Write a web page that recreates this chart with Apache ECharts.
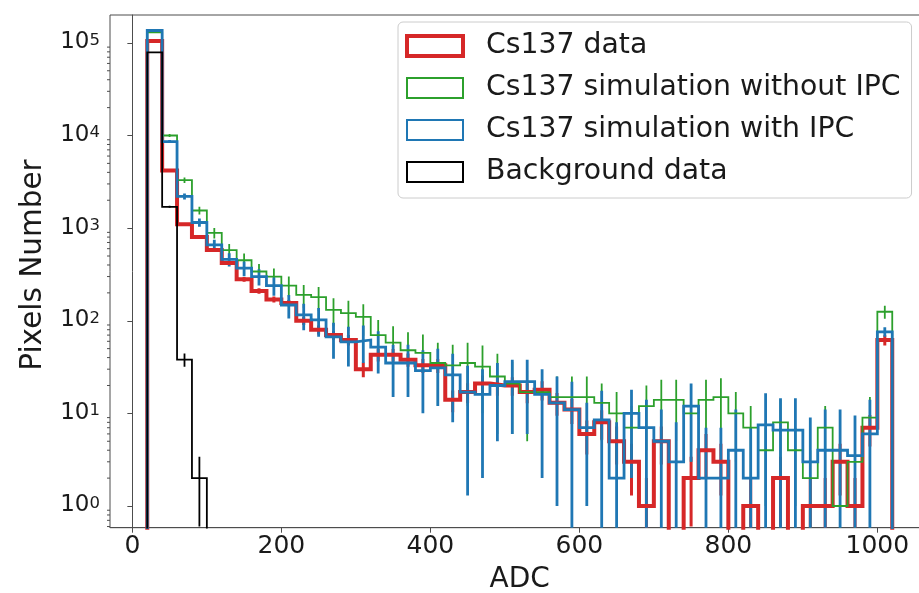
<!DOCTYPE html>
<html><head><meta charset="utf-8">
<script src="https://cdn.jsdelivr.net/npm/echarts@6/dist/echarts.min.js"></script>
<style>html,body{margin:0;padding:0;background:#fff}#c{width:919px;height:593px}</style>
</head><body><div id="c"></div>
<script>
// ---- histogram binning (ADC) ----
const binStart = 20;
const binWidth = 20;

// ---- series values (counts per bin, 50 bins from ADC 20 to 1020) ----
const cs137Data = [105000, 4200, 1100, 800, 580, 420, 280, 210, 170, 155,
  100, 80, 70, 62, 30, 43, 43, 38, 33, 33,
  14, 17, 21, 20, 20, 17, 18, 13, 11, 6,
  8, 5, 3, 1, 5, 0, 2, 4, 3, 0,
  1, 0, 2, 0, 1, 1, 3, 1, 7, 62];
const cs137DataErr = [324, 65, 33, 28, 24, 20, 17, 14, 13, 12,
  10, 9, 8, 8, 5.5, 6.6, 6.6, 6.2, 5.7, 5.7,
  3.7, 4.1, 4.6, 4.5, 4.5, 4.1, 4.2, 3.6, 3.3, 2.4,
  2.8, 2.2, 1.7, 1, 2.2, 0, 1.4, 2, 1.7, 0,
  1, 0, 1.4, 0, 1, 1, 1.7, 1, 2.6, 7.9];

const simNoIPC = [130000, 10000, 3300, 1550, 890, 580, 450, 340, 300, 240,
  190, 180, 131, 121, 110, 70, 58, 48, 45, 35,
  33, 35, 32, 25, 21, 17, 17, 15, 15, 15,
  13, 10, 7, 12, 14, 14, 10, 14, 15, 10,
  7, 4, 8, 4, 2, 7, 1, 3, 9, 125];
const simNoIPCErr = [1400, 390, 220, 150, 115, 93, 82, 71, 67, 60,
  53, 52, 44, 43, 41, 32, 29, 27, 26, 23,
  22, 23, 22, 19, 15, 12, 12, 10, 10, 10,
  8, 7, 5, 8, 9, 9, 7, 9, 9, 7,
  5, 3, 6, 3, 2, 5, 1, 2.5, 6, 20];

const simIPC = [136000, 8600, 2200, 1150, 660, 460, 370, 300, 240, 148,
  116, 102, 67, 59, 62, 52, 35, 35, 29, 31,
  26, 17, 16, 20, 22, 22, 16, 13, 11, 7,
  8.5, 2, 10, 7, 5, 3, 12, 2, 2, 4,
  2, 7.5, 6.6, 6.6, 3, 4, 4, 3.5, 6, 76];
const simIPCErr = [1300, 320, 160, 117, 89, 74, 67, 60, 54, 42,
  37, 35, 28, 27, 27, 25, 20, 20, 19, 19,
  18, 15.7, 14, 15, 16, 16, 14, 12, 11, 6,
  9, 6, 8, 7, 6, 5, 9, 5, 5, 7,
  5, 9, 8, 8, 6, 7, 7, 6, 8, 9];

const background = [79000, 1700, 38, 2, 0, 0, 0, 0, 0, 0,
  0, 0, 0, 0, 0, 0, 0, 0, 0, 0,
  0, 0, 0, 0, 0, 0, 0, 0, 0, 0,
  0, 0, 0, 0, 0, 0, 0, 0, 0, 0,
  0, 0, 0, 0, 0, 0, 0, 0, 0, 0];
const backgroundErr = [281, 41, 6.2, 1.4, 0, 0, 0, 0, 0, 0,
  0, 0, 0, 0, 0, 0, 0, 0, 0, 0,
  0, 0, 0, 0, 0, 0, 0, 0, 0, 0,
  0, 0, 0, 0, 0, 0, 0, 0, 0, 0,
  0, 0, 0, 0, 0, 0, 0, 0, 0, 0];

const seriesNames = ['Cs137 data', 'Cs137 simulation without IPC', 'Cs137 simulation with IPC', 'Background data'];
const xTickValues = [0, 200, 400, 600, 800, 1000];
const yMajorTicks = [1, 10, 100, 1000, 10000, 100000];
const xAxisTitle = 'ADC';
const yAxisTitle = 'Pixels Number';

// ---- layout / style ----
const X_MIN = -30, X_MAX = 1070, Y_MIN = 0.583, Y_MAX = 2.0e5;
const FLOOR = 1e-3;
const TXT = '#1a1a1a';
const AX = '#4d4d4d';
const FONT = 'DejaVu Sans';

const edge = i => binStart + i * binWidth;

function stepPoints(vals) {
  const pts = [[edge(0), FLOOR]];
  vals.forEach((v, i) => {
    const y = v > 0 ? v : FLOOR;
    pts.push([edge(i), y], [edge(i + 1), y]);
  });
  pts.push([edge(vals.length), FLOOR]);
  return pts;
}
function errPoints(vals, errs) {
  const out = [];
  vals.forEach((v, i) => {
    if (v > 0 && errs[i] > 0) {
      out.push([edge(i) + binWidth / 2, Math.max(v - errs[i], FLOOR), v + errs[i]]);
    }
  });
  return out;
}
function errRender(color, lw) {
  return function (params, api) {
    const p1 = api.coord([api.value(0), api.value(1)]);
    const p2 = api.coord([api.value(0), api.value(2)]);
    return { type: 'line', shape: { x1: p1[0], y1: p1[1], x2: p2[0], y2: p2[1] },
      style: { stroke: color, lineWidth: lw } };
  };
}

const defs = [
  { name: seriesNames[0], vals: cs137Data, errs: cs137DataErr, color: '#d62728', lw: 4, elw: 3 },
  { name: seriesNames[1], vals: simNoIPC, errs: simNoIPCErr, color: '#2ca02c', lw: 1.8, elw: 1.8 },
  { name: seriesNames[2], vals: simIPC, errs: simIPCErr, color: '#1f77b4', lw: 2.8, elw: 2.8 },
  { name: seriesNames[3], vals: background, errs: backgroundErr, color: '#000000', lw: 1.8, elw: 1.8 }
];

const series = [];
defs.forEach(d => {
  series.push({
    name: d.name, type: 'line', data: stepPoints(d.vals), symbol: 'none', clip: true,
    lineStyle: { color: d.color, width: d.lw, join: 'miter' }, itemStyle: { color: d.color },
    emphasis: { disabled: true }, silent: true
  });
  series.push({
    type: 'custom', data: errPoints(d.vals, d.errs), renderItem: errRender(d.color, d.elw),
    clip: true, silent: true, encode: { x: 0, y: [1, 2] }
  });
});

// minor log ticks on the y axis
const yMinor = [];
[0.1, 1, 10, 100, 1000, 10000].forEach(dec => {
  for (let k = 2; k <= 9; k++) {
    const v = dec * k;
    if (v > Y_MIN && v < Y_MAX) yMinor.push([X_MIN, v]);
  }
});
series.push({
  type: 'custom', data: yMinor, silent: true, clip: false,
  renderItem: (params, api) => {
    const p = api.coord([api.value(0), api.value(1)]);
    return { type: 'line', shape: { x1: p[0] - 3, y1: p[1], x2: p[0], y2: p[1] },
      style: { stroke: AX, lineWidth: 1 } };
  }
});

const chart = echarts.init(document.getElementById('c'), null, { renderer: 'canvas' });
chart.setOption({
  animation: false,
  backgroundColor: '#ffffff',
  textStyle: { fontFamily: FONT },
  grid: { left: 110, top: 15, right: -10.5, bottom: 65.3, show: true, borderColor: AX, borderWidth: 1,
    backgroundColor: 'transparent', outerBoundsMode: 'none' },
  xAxis: {
    type: 'value', min: X_MIN, max: X_MAX,
    axisLine: { show: true, onZero: false, lineStyle: { color: AX, width: 1 } },
    axisTick: { show: true, length: 5, customValues: xTickValues, lineStyle: { color: AX } },
    axisLabel: { customValues: xTickValues, fontSize: 25, color: TXT, margin: 6, fontFamily: FONT,
      formatter: v => String(v) },
    splitLine: { show: false },
    name: xAxisTitle, nameLocation: 'middle', nameGap: 38,
    nameTextStyle: { fontSize: 28, color: TXT, fontFamily: FONT }
  },
  yAxis: {
    type: 'log', logBase: 10, min: Y_MIN, max: Y_MAX,
    axisLine: { show: true, lineStyle: { color: AX, width: 1 } },
    axisTick: { show: true, length: 5, customValues: yMajorTicks, lineStyle: { color: AX } },
    axisLabel: {
      customValues: yMajorTicks, margin: 10, color: TXT,
      formatter: v => '{b|10}{s|' + Math.round(Math.log10(v)) + '}',
      rich: {
        b: { fontSize: 23, lineHeight: 22, color: TXT, fontFamily: FONT, verticalAlign: 'bottom' },
        s: { fontSize: 16.5, lineHeight: 16, color: TXT, fontFamily: FONT, verticalAlign: 'top', padding: [0, 0, 9, 0] }
      }
    },
    splitLine: { show: false }
  },
  graphic: [{
    type: 'text', x: 33.5, y: 265, rotation: Math.PI / 2, silent: true,
    style: { text: yAxisTitle, fontSize: 29.5, fontFamily: FONT, fill: TXT, align: 'center', verticalAlign: 'middle' }
  }],
  legend: {
    orient: 'vertical', left: 398, top: 22,
    padding: [10, 11, 12, 7],
    itemWidth: 56, itemHeight: 20, itemGap: 14,
    backgroundColor: 'rgba(255,255,255,0.85)', borderColor: '#cccccc', borderWidth: 1, borderRadius: 5,
    textStyle: { fontSize: 28.3, color: TXT, fontFamily: FONT, lineHeight: 28, padding: [0, 0, 0, 18] },
    selectedMode: false,
    data: defs.map(d => ({ name: d.name, icon: 'rect',
      itemStyle: { color: '#ffffff', borderColor: d.color, borderWidth: d.name === seriesNames[0] ? 4 : 2 } }))
  },
  series: series
});
</script></body></html>
